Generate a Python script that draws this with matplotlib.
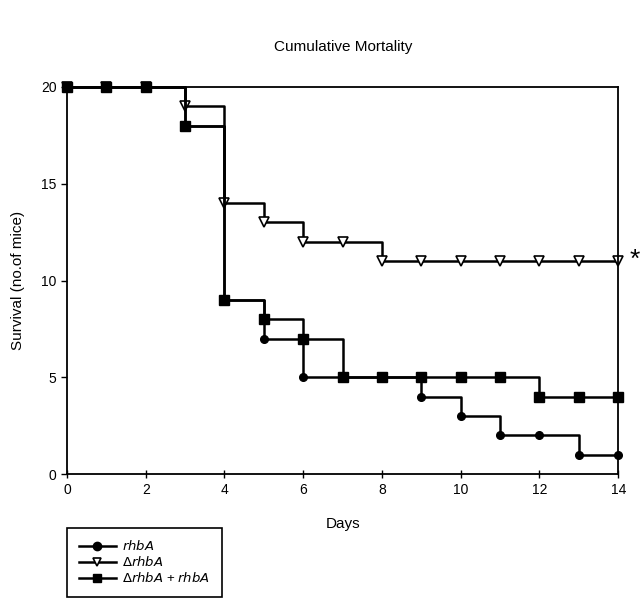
import matplotlib
matplotlib.use("Agg")
import matplotlib.pyplot as plt

days = list(range(15))
rhbA = [20, 20, 20, 18, 9, 7, 5, 5, 5, 4, 3, 2, 2, 1, 1]
delta_rhbA = [20, 20, 20, 19, 14, 13, 12, 12, 11, 11, 11, 11, 11, 11, 11]
delta_plus = [20, 20, 20, 18, 9, 8, 7, 5, 5, 5, 5, 5, 4, 4, 4]
labels = [r"$\it{rhbA}$", r"$\Delta\it{rhbA}$", r"$\Delta\it{rhbA}$ + $\it{rhbA}$"]
xticks = [0, 2, 4, 6, 8, 10, 12, 14]
yticks = [0, 5, 10, 15, 20]

plt.rcParams['font.family'] = ['Liberation Sans', 'DejaVu Sans']

fig = plt.figure(figsize=(6.44, 6.05), dpi=100)
ax = fig.add_axes([0.104, 0.2165, 0.856, 0.6397])

l2, = ax.plot(days, delta_rhbA, drawstyle='steps-post', color='black', lw=1.8,
              marker='v', ms=7.5, mfc='white', mec='black', mew=1.2, clip_on=False, zorder=2)
l1, = ax.plot(days, rhbA, drawstyle='steps-post', color='black', lw=1.8,
              marker='o', ms=5.5, clip_on=False, zorder=3)
l3, = ax.plot(days, delta_plus, drawstyle='steps-post', color='black', lw=1.8,
              marker='s', ms=6.5, clip_on=False, zorder=4)

ax.set_xlim(0, 14)
ax.set_ylim(0, 20)
ax.set_xticks(xticks)
ax.set_yticks(yticks)
ax.tick_params(axis='x', direction='inout', length=6, width=1, labelsize=10)
ax.tick_params(axis='y', direction='out', length=4, width=1, labelsize=10)
for s in ax.spines.values():
    s.set_linewidth(1.3)

ax.text(14.28, 11.05, '*', fontsize=19, ha='left', va='center')

fig.text(0.533, 0.922, 'Cumulative Mortality', ha='center', va='center', fontsize=11)
fig.text(0.533, 0.134, 'Days', ha='center', va='center', fontsize=11)
fig.text(0.028, 0.5366, 'Survival (no.of mice)', ha='center', va='center',
         rotation=90, fontsize=11)

leg = fig.legend([l1, l2, l3], [labels[0], labels[1], labels[2]], loc='upper left',
                 bbox_to_anchor=(0.104, 0.128), bbox_transform=fig.transFigure,
                 fancybox=False, edgecolor='black', framealpha=1,
                 fontsize=9.5, handlelength=2.8, borderpad=0.9,
                 labelspacing=0.15, handletextpad=0.5, borderaxespad=0)
leg.get_frame().set_linewidth(1.2)
for h in leg.legend_handles:
    h.set_markersize(6)

fig.savefig('out.png', dpi=100)
